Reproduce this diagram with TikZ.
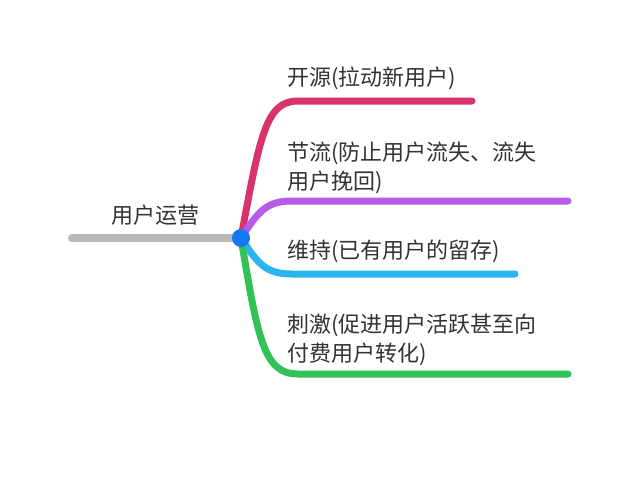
\documentclass[tikz,border=0pt]{standalone}
\usepackage{fontspec}
\setmainfont{Noto Sans CJK SC}
\definecolor{txt}{HTML}{333333}
\definecolor{cgray}{HTML}{B9B9B9}
\definecolor{cpink}{HTML}{D9336C}
\definecolor{cpurple}{HTML}{B65BE9}
\definecolor{ccyan}{HTML}{2CB4F1}
\definecolor{cgreen}{HTML}{33C257}
\definecolor{cdot}{HTML}{1677F2}
\begin{document}
\begin{tikzpicture}[x=1pt,y=-1pt,
  branch/.style={line width=7pt,line cap=round},
  label/.style={anchor=west,inner sep=0pt,align=left,text=txt,
    font=\fontsize{22}{29}\selectfont}]
\useasboundingbox[fill=white] (0,0) rectangle (640,477);
\coordinate (c) at (241,238);
\coordinate (g0) at (72,238);
\coordinate (p1) at (472,101);
\coordinate (u1) at (568,201);
\coordinate (b1) at (515,274);
\coordinate (n1) at (568,374);
\draw[branch,cgray,line width=8pt] (g0) -- (c);
\draw[branch,cpink] (c) .. controls (260,135) and (266,101) .. (298,101) -- (p1);
\draw[branch,cpurple] (c) .. controls (258,212) and (266,201) .. (292,201) -- (u1);
\draw[branch,ccyan] (c) .. controls (258,264) and (266,274) .. (292,274) -- (b1);
\draw[branch,cgreen] (c) .. controls (258,340) and (264,374) .. (298,374) -- (n1);
\node[circle,fill=cdot,minimum size=18pt,inner sep=0pt] (dot) at (c) {};
\node[label,anchor=center] (root) at (155,215) {用户运营};
\node[label] (t1) at (287,78) {开源(拉动新用户)};
\node[label] (t2) at (287,167.5) {节流(防止用户流失、流失\\用户挽回)};
\node[label] (t3) at (287,251) {维持(已有用户的留存)};
\node[label] (t4) at (287,340) {刺激(促进用户活跃甚至向\\付费用户转化)};
\end{tikzpicture}
\end{document}
